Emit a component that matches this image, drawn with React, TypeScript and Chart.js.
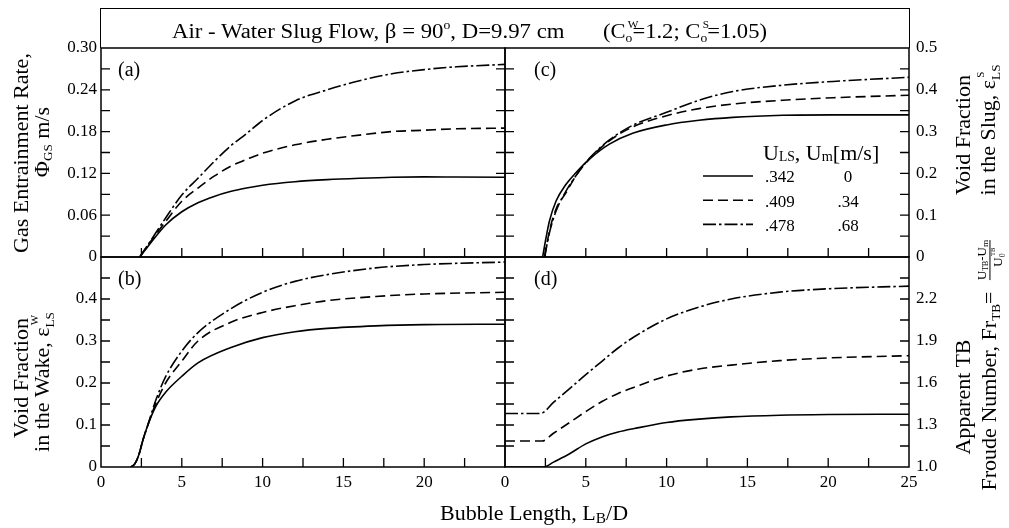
import React, { useEffect, useRef } from "react";
import { Chart, registerables } from "chart.js";

Chart.register(...registerables);

const FONT = "'Liberation Serif', 'Times New Roman', Times, serif";

// ---------------- data ----------------
const X_MIN = 0;
const X_MAX = 25;
const B_X_TICKS = [0, 5, 10, 15, 20];
const D_X_TICKS = [0, 5, 10, 15, 20, 25];

const A_Y_TICKS = [0, 0.06, 0.12, 0.18, 0.24, 0.3];
const A_Y_LABELS = ["0", "0.06", "0.12", "0.18", "0.24", "0.30"];
const B_Y_TICKS = [0, 0.1, 0.2, 0.3, 0.4];
const B_Y_LABELS = ["0", "0.1", "0.2", "0.3", "0.4"];
const C_Y_TICKS = [0, 0.1, 0.2, 0.3, 0.4, 0.5];
const C_Y_LABELS = ["0", "0.1", "0.2", "0.3", "0.4", "0.5"];
const D_Y_TICKS = [1.0, 1.3, 1.6, 1.9, 2.2];
const D_Y_LABELS = ["1.0", "1.3", "1.6", "1.9", "2.2"];

const U_LS = [".342", ".409", ".478"];
const U_M = ["0", ".34", ".68"];

// (a) gas entrainment rate
const A_X = [2.4, 3, 4, 5, 6, 7, 8, 9, 10, 12, 14, 16, 18, 20, 22, 25];
const A_SOLID = [0, 0.018, 0.046, 0.065, 0.078, 0.087, 0.094, 0.099, 0.103, 0.108, 0.111, 0.113, 0.1145, 0.115, 0.1148, 0.1145];
const A_DASHED = [0, 0.02, 0.051, 0.08, 0.099, 0.116, 0.13, 0.14, 0.149, 0.161, 0.169, 0.175, 0.18, 0.182, 0.184, 0.185];
const A_DASHDOT = [0, 0.021, 0.056, 0.089, 0.113, 0.137, 0.159, 0.177, 0.196, 0.224, 0.24, 0.253, 0.263, 0.269, 0.273, 0.2765];

// (b) void fraction in the wake
const B_X = [1.85, 2.1, 2.35, 2.6, 2.9, 3.4, 4, 5, 6, 8, 10, 12, 14, 17, 20, 25];
const B_SOLID = [0, 0.008, 0.03, 0.065, 0.1, 0.145, 0.178, 0.216, 0.248, 0.284, 0.308, 0.322, 0.33, 0.336, 0.339, 0.34];
const B_DASHED = [0, 0.008, 0.03, 0.065, 0.1, 0.152, 0.2, 0.252, 0.3, 0.344, 0.368, 0.384, 0.396, 0.406, 0.412, 0.416];
const B_DASHDOT = [0, 0.008, 0.03, 0.065, 0.1, 0.16, 0.215, 0.276, 0.32, 0.376, 0.416, 0.442, 0.458, 0.474, 0.482, 0.488];

// (c) void fraction in the slug
const C_X_SOLID = [2.33, 2.54, 2.75, 3.16, 3.78, 4.4, 5.22, 6.46, 7.9, 10, 12, 14.1, 17.2, 20.3, 25];
const C_SOLID = [0, 0.046, 0.086, 0.134, 0.174, 0.202, 0.234, 0.27, 0.296, 0.316, 0.327, 0.334, 0.339, 0.34, 0.34];
const C_X_OTHER = [2.45, 2.75, 3.16, 3.78, 4.4, 5.22, 6.46, 7.9, 10, 12, 14.1, 17.2, 20.3, 25];
const C_DASHED = [0, 0.062, 0.115, 0.154, 0.195, 0.234, 0.278, 0.311, 0.338, 0.355, 0.366, 0.375, 0.381, 0.387];
const C_DASHDOT = [0, 0.058, 0.11, 0.158, 0.195, 0.236, 0.28, 0.315, 0.346, 0.375, 0.396, 0.411, 0.42, 0.43];

// (d) apparent Taylor-bubble Froude number
const D_X_SOLID = [0, 2.4, 3, 4, 5, 6, 7, 8, 10, 12, 14, 17, 20, 25];
const D_SOLID = [1.0, 1.0, 1.035, 1.095, 1.165, 1.215, 1.25, 1.275, 1.318, 1.342, 1.358, 1.37, 1.375, 1.377];
const D_X_DASHED = [0, 2.3, 3, 4, 5, 6, 7, 8, 10, 12, 14, 17, 20, 25];
const D_DASHED = [1.186, 1.186, 1.241, 1.318, 1.396, 1.468, 1.525, 1.57, 1.65, 1.7, 1.728, 1.76, 1.779, 1.795];
const D_X_DASHDOT = [0, 2.2, 3, 4, 5, 6, 7, 8, 10, 12, 14, 17, 20, 25];
const D_DASHDOT = [1.382, 1.382, 1.462, 1.56, 1.66, 1.755, 1.85, 1.93, 2.058, 2.142, 2.2, 2.249, 2.273, 2.292];

// ---------------- layout ----------------
const W = 1009;
const H = 528;
const LEFT = 101;
const MID = 505;
const RIGHT = 909;
const TOP = 48;
const HMID = 257;
const BOTTOM = 467;
const TICK = 9;

type Pt = { x: number; y: number };
const pts = (xs: number[], ys: number[]): Pt[] => xs.map((x, i) => ({ x, y: ys[i] }));

const DASHES: number[][] = [[], [10, 5], [13, 3, 2.5, 3]];

const framePlugin = {
  id: "panelFrame",
  afterDraw(chart: any, _args: any, opts: any) {
    const { ctx, chartArea: a } = chart;
    const xs = chart.scales.x;
    const ys = chart.scales.y;
    ctx.save();
    ctx.strokeStyle = "#000";
    ctx.setLineDash([]);
    ctx.lineWidth = 1.5;
    ctx.strokeRect(a.left, a.top, a.right - a.left, a.bottom - a.top);
    ctx.lineWidth = 1.3;
    ctx.beginPath();
    const nx = Math.round((xs.max - xs.min) / opts.xStep);
    for (let k = 1; k < nx; k++) {
      const px = xs.getPixelForValue(xs.min + k * opts.xStep);
      ctx.moveTo(px, a.bottom);
      ctx.lineTo(px, a.bottom - TICK);
    }
    const ny = Math.round((ys.max - ys.min) / opts.yStep);
    for (let k = 1; k < ny; k++) {
      const py = ys.getPixelForValue(ys.min + k * opts.yStep);
      ctx.moveTo(a.left, py);
      ctx.lineTo(a.left + TICK, py);
      ctx.moveTo(a.right, py);
      ctx.lineTo(a.right - TICK, py);
    }
    ctx.stroke();
    ctx.restore();
  },
};

const keyPlugin = {
  id: "lineKey",
  afterDraw(chart: any, _args: any, opts: any) {
    if (!opts || !opts.show) return;
    const { ctx, chartArea: a } = chart;
    chart.data.datasets.forEach((ds: any, i: number) => {
      const y = a.top + opts.y0 + i * opts.dy;
      ctx.save();
      ctx.strokeStyle = ds.borderColor;
      ctx.lineWidth = ds.borderWidth;
      ctx.setLineDash(ds.borderDash || []);
      ctx.beginPath();
      ctx.moveTo(a.left + opts.x0, y);
      ctx.lineTo(a.left + opts.x1, y);
      ctx.stroke();
      ctx.restore();
    });
  },
};

interface PanelSpec {
  series: Pt[][];
  yMin: number;
  yMax: number;
  yTicks: number[];
  yLabels: string[];
  yStep: number;
  ySide: "left" | "right";
  xTicks: number[] | null;
  padding: { left: number; right: number; top: number; bottom: number };
  key?: boolean;
}

function makeConfig(spec: PanelSpec): any {
  const tickFont = { family: FONT, size: 17 };
  const xScale: any = {
    type: "linear",
    min: X_MIN,
    max: X_MAX,
    position: "bottom",
    display: !!spec.xTicks,
    grid: { display: false, drawTicks: false },
    border: { display: false },
    ticks: {
      padding: 5,
      color: "#000",
      font: tickFont,
      maxRotation: 0,
      autoSkip: false,
      callback: (v: number) => String(v),
    },
  };
  if (spec.xTicks) {
    const xt = spec.xTicks;
    xScale.afterBuildTicks = (s: any) => {
      s.ticks = xt.map((v) => ({ value: v }));
    };
    xScale.afterFit = (s: any) => {
      s.height = H - BOTTOM;
    };
  }
  const yWidth = spec.ySide === "left" ? LEFT : W - RIGHT;
  return {
    type: "line",
    data: {
      datasets: spec.series.map((data, i) => ({
        label: `U_LS ${U_LS[i]}, U_m ${U_M[i]}`,
        data,
        borderColor: "#000",
        borderWidth: 1.6,
        borderDash: DASHES[i],
        pointRadius: 0,
        fill: false,
        cubicInterpolationMode: "monotone",
      })),
    },
    options: {
      responsive: false,
      animation: false,
      devicePixelRatio: 1,
      events: [],
      layout: { padding: spec.padding },
      plugins: {
        legend: { display: false },
        tooltip: { enabled: false },
        panelFrame: { xStep: 2.5, yStep: spec.yStep },
        lineKey: spec.key ? { show: true, x0: 198, x1: 248, y0: 128, dy: 24.2 } : { show: false },
      },
      scales: {
        x: xScale,
        y: {
          type: "linear",
          position: spec.ySide,
          min: spec.yMin,
          max: spec.yMax,
          afterBuildTicks: (s: any) => {
            s.ticks = spec.yTicks.map((v) => ({ value: v }));
          },
          afterFit: (s: any) => {
            s.width = yWidth;
          },
          grid: { display: false, drawTicks: false },
          border: { display: false },
          ticks: {
            padding: spec.ySide === "left" ? 4 : 7,
            color: "#000",
            font: tickFont,
            autoSkip: false,
            callback: (_v: number, i: number) => spec.yLabels[i],
          },
        },
      },
    },
    plugins: [framePlugin, keyPlugin],
  };
}

const PANELS: PanelSpec[] = [
  {
    series: [pts(A_X, A_SOLID), pts(A_X, A_DASHED), pts(A_X, A_DASHDOT)],
    yMin: 0, yMax: 0.3, yTicks: A_Y_TICKS, yLabels: A_Y_LABELS, yStep: 0.03, ySide: "left", xTicks: null,
    padding: { left: 0, right: W - MID, top: TOP, bottom: H - HMID },
  },
  {
    series: [pts(B_X, B_SOLID), pts(B_X, B_DASHED), pts(B_X, B_DASHDOT)],
    yMin: 0, yMax: 0.5, yTicks: B_Y_TICKS, yLabels: B_Y_LABELS, yStep: 0.05, ySide: "left", xTicks: B_X_TICKS,
    padding: { left: 0, right: W - MID, top: HMID, bottom: 0 },
  },
  {
    series: [pts(C_X_SOLID, C_SOLID), pts(C_X_OTHER, C_DASHED), pts(C_X_OTHER, C_DASHDOT)],
    yMin: 0, yMax: 0.5, yTicks: C_Y_TICKS, yLabels: C_Y_LABELS, yStep: 0.05, ySide: "right", xTicks: null,
    padding: { left: MID, right: 0, top: TOP, bottom: H - HMID }, key: true,
  },
  {
    series: [pts(D_X_SOLID, D_SOLID), pts(D_X_DASHED, D_DASHED), pts(D_X_DASHDOT, D_DASHDOT)],
    yMin: 1.0, yMax: 2.5, yTicks: D_Y_TICKS, yLabels: D_Y_LABELS, yStep: 0.15, ySide: "right", xTicks: D_X_TICKS,
    padding: { left: MID, right: 0, top: HMID, bottom: 0 },
  },
];

// ---------------- text helpers ----------------
const Sub = ({ children, size = 0.62, dy = 0.3 }: any) => (
  <span style={{ fontSize: `${size}em`, position: "relative", top: `${dy}em`, lineHeight: 1 }}>{children}</span>
);

const SubSup = ({ sub, sup }: any) => (
  <span style={{ position: "relative", display: "inline-block", lineHeight: 1 }}>
    <span style={{ fontSize: "0.6em", position: "relative", top: "0.35em" }}>{sub}</span>
    <span style={{ fontSize: "0.5em", position: "absolute", left: "0.2em", top: "-0.15em" }}>{sup}</span>
  </span>
);

const VLine = ({ cx, cy, size = 22, children }: any) => (
  <div
    style={{
      position: "absolute",
      left: cx,
      top: cy,
      transform: "translate(-50%, -50%) rotate(-90deg)",
      whiteSpace: "nowrap",
      fontSize: size,
      lineHeight: `${size}px`,
    }}
  >
    {children}
  </div>
);

const Abs = ({ left, top, size, children, center, sx }: any) => (
  <div
    style={{
      position: "absolute",
      left,
      top,
      fontSize: size,
      lineHeight: `${size}px`,
      whiteSpace: "nowrap",
      transform: `${center ? "translateX(-50%) " : ""}${sx ? `scaleX(${sx})` : ""}`,
      transformOrigin: "left top",
    }}
  >
    {children}
  </div>
);

export default function App() {
  const refs = [useRef<HTMLCanvasElement>(null), useRef<HTMLCanvasElement>(null), useRef<HTMLCanvasElement>(null), useRef<HTMLCanvasElement>(null)];

  useEffect(() => {
    const charts = PANELS.map((spec, i) => new Chart(refs[i].current as HTMLCanvasElement, makeConfig(spec)));
    return () => charts.forEach((c) => c.destroy());
  }, []);

  return (
    <div
      style={{
        position: "fixed",
        left: 0,
        top: 0,
        width: W,
        height: H,
        background: "#fff",
        color: "#000",
        fontFamily: FONT,
        overflow: "hidden",
      }}
    >
      {refs.map((r, i) => (
        <canvas key={i} ref={r} width={W} height={H} style={{ position: "absolute", left: 0, top: 0 }} />
      ))}

      {/* title box */}
      <div
        style={{
          position: "absolute",
          left: LEFT - 0.75,
          top: 8,
          width: RIGHT - LEFT + 1.5,
          height: TOP - 8,
          border: "1.5px solid #000",
          borderBottom: "none",
          boxSizing: "border-box",
        }}
      />
      <Abs left={172} top={21} size={20} sx={1.14}>
        Air - Water Slug Flow, β = 90<Sub size={0.6} dy={-0.75}>o</Sub>, D=9.97 cm
      </Abs>
      <Abs left={603} top={21} size={20} sx={1.13}>
        (C<SubSup sub="o" sup="W" />=1.2; C<SubSup sub="o" sup="S" />=1.05)
      </Abs>

      {/* panel tags */}
      <Abs left={118} top={59} size={20}>(a)</Abs>
      <Abs left={118} top={268} size={20}>(b)</Abs>
      <Abs left={534} top={59} size={20}>(c)</Abs>
      <Abs left={534} top={268} size={20}>(d)</Abs>

      {/* left axis titles */}
      <VLine cx={21} cy={153}>Gas Entrainment Rate,</VLine>
      <VLine cx={42} cy={142}>
        Φ<Sub size={0.6} dy={0.2}>GS</Sub> m/s
      </VLine>
      <VLine cx={21} cy={378}>Void Fraction</VLine>
      <VLine cx={42} cy={382}>
        in the Wake, ε<SubSup sub="LS" sup="W" />
      </VLine>

      {/* right axis titles */}
      <VLine cx={963} cy={135}>Void Fraction</VLine>
      <VLine cx={988} cy={130}>
        in the Slug, ε<SubSup sub="LS" sup="S" />
      </VLine>
      <VLine cx={963} cy={397}>Apparent TB</VLine>
      <VLine cx={989} cy={391}>
        Froude Number, Fr<Sub size={0.6} dy={0.3}>TB</Sub>=
      </VLine>
      <div
        style={{
          position: "absolute",
          left: 990,
          top: 260,
          transform: "translate(-50%, -50%) rotate(-90deg)",
          fontSize: 13,
          lineHeight: "13px",
          display: "flex",
          flexDirection: "column",
          alignItems: "center",
          whiteSpace: "nowrap",
        }}
      >
        <span style={{ paddingBottom: 1 }}>
          U<Sub size={0.6} dy={0.25}>TB</Sub>-U<Sub size={0.7} dy={0.25}>m</Sub>
        </span>
        <span style={{ borderTop: "1px solid #000", paddingTop: 1, width: "100%", textAlign: "center" }}>
          U<SubSup sub="0" sup="TB" />
        </span>
      </div>

      {/* x axis title */}
      <Abs left={440} top={502} size={22}>
        Bubble Length, L<Sub size={0.7} dy={0.2}>B</Sub>/D
      </Abs>

      {/* legend text inside panel (c) */}
      <Abs left={763} top={142} size={22}>
        U<Sub size={0.62} dy={0.1}>LS</Sub>, U<Sub size={0.65} dy={0.1}>m</Sub>[m/s]
      </Abs>
      {U_LS.map((u, i) => (
        <Abs key={`u${i}`} left={765} top={168 + i * 24.7} size={17}>
          {u}
        </Abs>
      ))}
      {U_M.map((u, i) => (
        <Abs key={`m${i}`} left={848} top={168 + i * 24.7} size={17} center>
          {u}
        </Abs>
      ))}
    </div>
  );
}
